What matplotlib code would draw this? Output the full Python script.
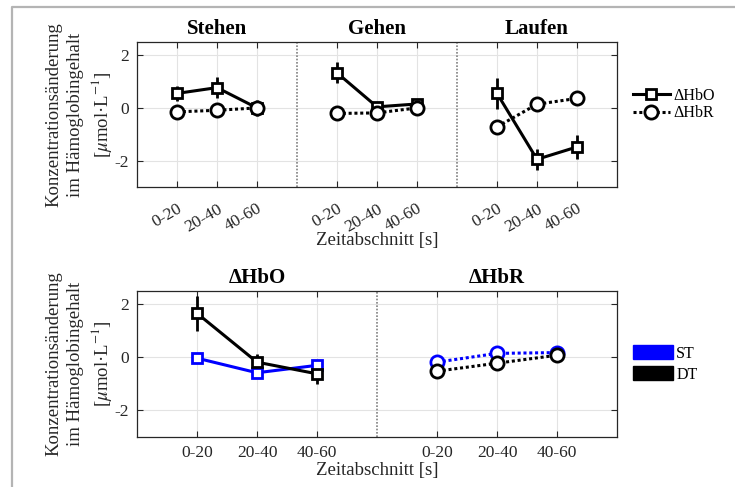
import matplotlib
matplotlib.use("Agg")
import matplotlib.pyplot as plt
from matplotlib.lines import Line2D
from matplotlib.patches import Patch
import numpy as np

plt.rcParams['font.family'] = ['Liberation Serif', 'DejaVu Serif']
plt.rcParams['mathtext.fontset'] = 'stix'
plt.rcParams['axes.unicode_minus'] = False

# ---- data ----
conditions = ["Stehen", "Gehen", "Laufen"]
time_labels = ["0-20", "20-40", "40-60"]

hbo_stehen = [0.55, 0.77, 0.0]
hbo_gehen = [1.33, 0.04, 0.15]
hbo_laufen = [0.55, -1.95, -1.48]
hbo_err_stehen = [0.3, 0.4, 0.3]
hbo_err_gehen = [0.4, 0.15, 0.15]
hbo_err_laufen = [0.6, 0.4, 0.45]

hbr_stehen = [-0.15, -0.09, 0.0]
hbr_gehen = [-0.21, -0.19, 0.0]
hbr_laufen = [-0.72, 0.14, 0.36]
hbr_err_stehen = [0.1, 0.1, 0.1]
hbr_err_gehen = [0.1, 0.1, 0.1]
hbr_err_laufen = [0.15, 0.1, 0.1]

chromophores = ["\u0394HbO", "\u0394HbR"]
st_hbo = [-0.03, -0.58, -0.3]
dt_hbo = [1.66, -0.18, -0.62]
st_hbo_err = [0.15, 0.12, 0.15]
dt_hbo_err = [0.65, 0.3, 0.4]
st_hbr = [-0.18, 0.15, 0.18]
dt_hbr = [-0.52, -0.22, 0.08]
st_hbr_err = [0.08, 0.08, 0.08]
dt_hbr_err = [0.1, 0.1, 0.1]

# ---- style ----
W, H = 735, 487
fig = plt.figure(figsize=(W / 100, H / 100), dpi=100)
AX_COL = '#262626'
GRID_COL = '#e3e3e3'
SEP_COL = '#808080'
BLUE = '#0000ff'
LW = 2.2
DOT = (0, (1, 0.9))
YLABEL = "Konzentrations\u00e4nderung\nim H\u00e4moglobingehalt\n[$\\mu$mol\u00b7L$^{-1}$]"


def px_axes(left, top, right, bottom):
    return fig.add_axes([left / W, 1 - bottom / H, (right - left) / W, (bottom - top) / H])


def style_axes(ax, xticks):
    ax.set_ylim(-3, 2.5)
    ax.set_yticks([-2, 0, 2])
    ax.set_xticks(xticks)
    ax.grid(True, color=GRID_COL, lw=0.8)
    ax.set_axisbelow(True)
    for s in ax.spines.values():
        s.set_color(AX_COL)
        s.set_linewidth(0.9)
    ax.tick_params(direction='in', top=True, right=True, length=4, width=0.8,
                   color=AX_COL, labelcolor=AX_COL, labelsize=12.5, pad=6)


def series(ax, x, y, err, color, marker, ls, ms):
    ax.errorbar(x, y, yerr=err, fmt='none', ecolor=color, elinewidth=2.0, capsize=0, zorder=3)
    ax.plot(x, y, color=color, lw=LW, ls=ls, marker=marker, ms=ms,
            mfc='white', mec=color, mew=2.0, zorder=4)


# ---- top row: conditions ----
ax1 = px_axes(137, 42, 617, 187)
pos = np.arange(1, 4)
hbo_all = [hbo_stehen, hbo_gehen, hbo_laufen]
hbo_err_all = [hbo_err_stehen, hbo_err_gehen, hbo_err_laufen]
hbr_all = [hbr_stehen, hbr_gehen, hbr_laufen]
hbr_err_all = [hbr_err_stehen, hbr_err_gehen, hbr_err_laufen]
xt = []
for g, name in enumerate(conditions):
    x = pos + 4 * g
    xt.extend(x)
    series(ax1, x, hbo_all[g], hbo_err_all[g], 'black', 's', '-', 7.5)
    series(ax1, x, hbr_all[g], hbr_err_all[g], 'black', 'o', DOT, 9.5)
    ax1.text(x[1], 2.62, name, ha='center', va='bottom', fontsize=15,
             fontweight='bold', color='black')
for sep in (4, 8):
    ax1.axvline(sep, color=SEP_COL, lw=1.2, ls=(0, (1, 1)), zorder=2)
ax1.set_xlim(0, 12)
style_axes(ax1, xt)
ax1.set_xticklabels(time_labels * 3, rotation=30, ha='right', va='top',
                    rotation_mode='anchor')
ax1.tick_params(axis='x', pad=10)
ax1.legend(handles=[
    Line2D([], [], color='black', lw=LW, marker='s', ms=7.5, mfc='white', mew=2.0),
    Line2D([], [], color='black', lw=LW, ls=DOT, marker='o', ms=9.5, mfc='white', mew=2.0)],
    labels=chromophores, loc='center left', bbox_to_anchor=(1.02, 0.57),
    frameon=False, fontsize=11.5, handlelength=2.3, handletextpad=0.2,
    labelspacing=0.1, borderaxespad=0)
fig.text(377 / W, 1 - 240 / H, "Zeitabschnitt [s]", ha='center', va='center',
         fontsize=13.5, color=AX_COL)
fig.text(80 / W, 1 - 115 / H, YLABEL, rotation=90, ha='center', va='center',
         multialignment='center', fontsize=13.5, color=AX_COL, linespacing=1.3)

# ---- bottom row: single vs. dual task ----
ax2 = px_axes(137, 291, 617, 437)
xl = np.arange(1, 4)
xr = np.arange(5, 8)
series(ax2, xl, st_hbo, st_hbo_err, BLUE, 's', '-', 7.5)
series(ax2, xl, dt_hbo, dt_hbo_err, 'black', 's', '-', 7.5)
series(ax2, xr, st_hbr, st_hbr_err, BLUE, 'o', DOT, 9.5)
series(ax2, xr, dt_hbr, dt_hbr_err, 'black', 'o', DOT, 9.5)
ax2.axvline(4, color=SEP_COL, lw=1.2, ls=(0, (1, 1)), zorder=2)
ax2.set_xlim(0, 8)
style_axes(ax2, list(xl) + list(xr))
ax2.set_xticklabels(time_labels * 2)
for xc, name in zip((2, 6), chromophores):
    ax2.text(xc, 2.62, name, ha='center', va='bottom', fontsize=15,
             fontweight='bold', color='black')
ax2.legend(handles=[Patch(color=BLUE), Patch(color='black')], labels=["ST", "DT"],
           loc='center left', bbox_to_anchor=(1.02, 0.5), frameon=False,
           fontsize=11.5, handlelength=2.5, handleheight=0.9, handletextpad=0.2,
           labelspacing=0.3, borderaxespad=0)
fig.text(377 / W, 1 - 471 / H, "Zeitabschnitt [s]", ha='center', va='center',
         fontsize=13.5, color=AX_COL)
fig.text(80 / W, 1 - 364 / H, YLABEL, rotation=90, ha='center', va='center',
         multialignment='center', fontsize=13.5, color=AX_COL, linespacing=1.3)

# image frame along the top and left edge
fig.add_artist(Line2D([12 / W, 12 / W, 1.0], [0.0, 1 - 7 / H, 1 - 7 / H],
                      transform=fig.transFigure, color='#b4b4b4', lw=1.6))

fig.savefig("out.png", dpi=100)
